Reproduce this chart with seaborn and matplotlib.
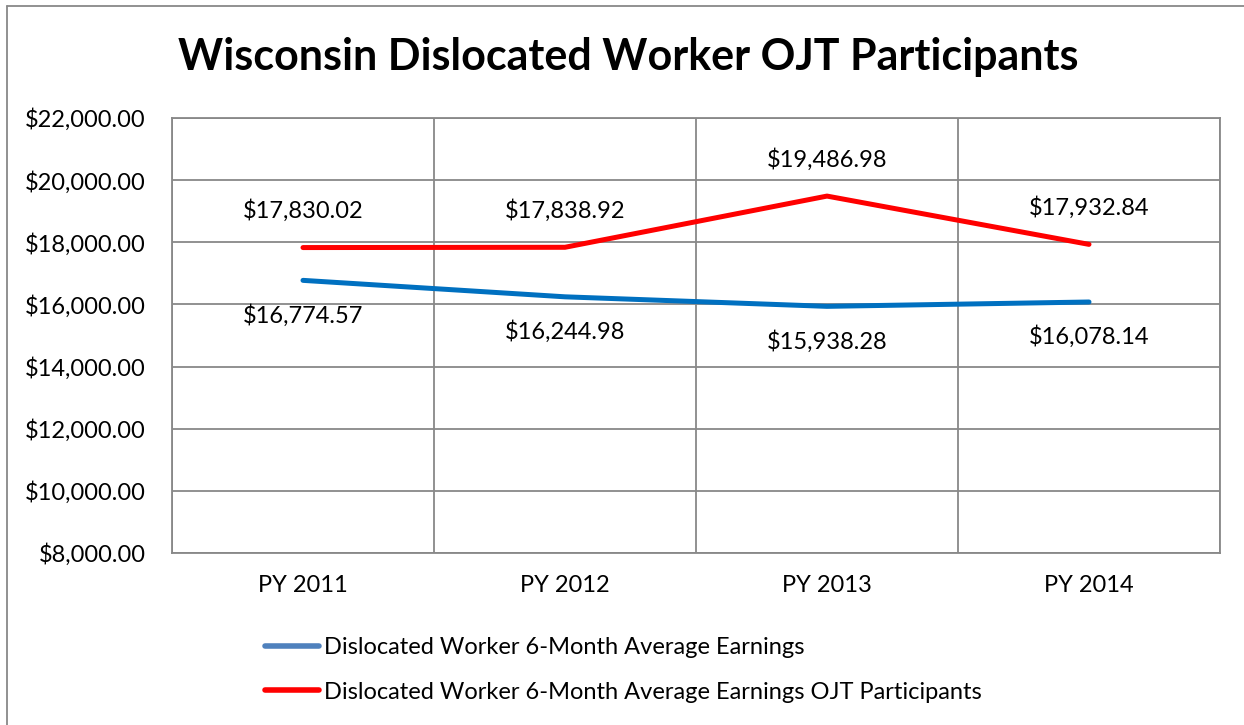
import pandas as pd
import numpy as np
import matplotlib
matplotlib.use('Agg')
import matplotlib.pyplot as plt
import matplotlib.ticker as mticker
from matplotlib.lines import Line2D
import seaborn as sns

# ============================================================
# 数据
# ============================================================
years = ['PY 2011', 'PY 2012', 'PY 2013', 'PY 2014']
dw_avg = [16774.57, 16244.98, 15938.28, 16078.14]
ojt_avg = [17830.02, 17838.92, 19486.98, 17932.84]
series_names = ['Dislocated Worker 6-Month Average Earnings',
                'Dislocated Worker 6-Month Average Earnings OJT Participants']
line_colors = ['#0070C0', '#FF0000']
legend_colors = ['#4F81BD', '#FF0000']

df = pd.DataFrame({
    'year': years * 2,
    'value': dw_avg + ojt_avg,
    'series': [series_names[0]] * 4 + [series_names[1]] * 4,
})

# ============================================================
# 全局设置
# ============================================================
sns.set_style('white')
plt.rcParams['font.family'] = ['Lato', 'DejaVu Sans']
plt.rcParams['text.color'] = 'black'
plt.rcParams['xtick.color'] = 'black'
plt.rcParams['ytick.color'] = 'black'

FS = 17

fig = plt.figure(figsize=(12.44, 7.25), dpi=100)
ax = fig.add_axes([172 / 1244, 1 - 553 / 725, 1048 / 1244, 435 / 725])

sns.lineplot(data=df, x='year', y='value', hue='series', sort=False,
             palette=dict(zip(series_names, line_colors)), linewidth=3.6,
             ax=ax, legend=True)

# 数据标签：蓝线在下，红线在上
for v, x in zip(dw_avg, range(len(years))):
    ax.annotate(f'${v:,.2f}', (x, v), xytext=(0, -25), textcoords='offset points',
                ha='center', va='center', fontsize=FS)
for v, x in zip(ojt_avg, range(len(years))):
    ax.annotate(f'${v:,.2f}', (x, v), xytext=(0, 26.5), textcoords='offset points',
                ha='center', va='center', fontsize=FS)

ax.set_xlim(-0.5, 3.5)
ax.set_ylim(8000, 22000)
ax.yaxis.set_major_locator(mticker.MultipleLocator(2000))
ax.yaxis.set_major_formatter(mticker.FuncFormatter(lambda v, p: f'${v:,.2f}'))
ax.set_xticks(range(len(years)))
ax.set_xticks(np.arange(-0.5, 4, 1), minor=True)
ax.grid(True, axis='y', which='major', color='#888888', linewidth=1.3)
ax.grid(True, axis='x', which='minor', color='#888888', linewidth=1.3)
ax.grid(False, axis='x', which='major')
ax.set_axisbelow(True)
for s in ax.spines.values():
    s.set_color('#888888')
    s.set_linewidth(1.3)
ax.tick_params(axis='both', which='both', length=0, labelsize=FS)
ax.tick_params(axis='x', pad=16)
ax.tick_params(axis='y', pad=19)
ax.set_xlabel('')
ax.set_ylabel('')

# 标题
fig.text(628 / 1244, 1 - 57 / 725, 'Wisconsin Dislocated Worker OJT Participants',
         ha='center', va='center', fontsize=31, fontweight='bold')

# 图例（竖排，位于下方）
handles, labels = ax.get_legend_handles_labels()
new_handles = [Line2D([0], [0], color=c, linewidth=4, solid_capstyle='round')
               for c in legend_colors]
ax.legend(new_handles, labels, loc='upper left',
          bbox_to_anchor=(265 / 1244, 1 - 637 / 725), bbox_transform=fig.transFigure,
          frameon=False, fontsize=FS, handlelength=2.3, handletextpad=0.2,
          labelspacing=1.0, borderaxespad=0, borderpad=0)

# 外框（左、上）
fig.add_artist(Line2D([7 / 1244, 7 / 1244], [0, 1 - 6 / 725], transform=fig.transFigure,
                      color='#888888', linewidth=1.3))
fig.add_artist(Line2D([7 / 1244, 1], [1 - 6 / 725, 1 - 6 / 725], transform=fig.transFigure,
                      color='#888888', linewidth=1.3))

fig.savefig('out.png', dpi=100)
plt.close(fig)
